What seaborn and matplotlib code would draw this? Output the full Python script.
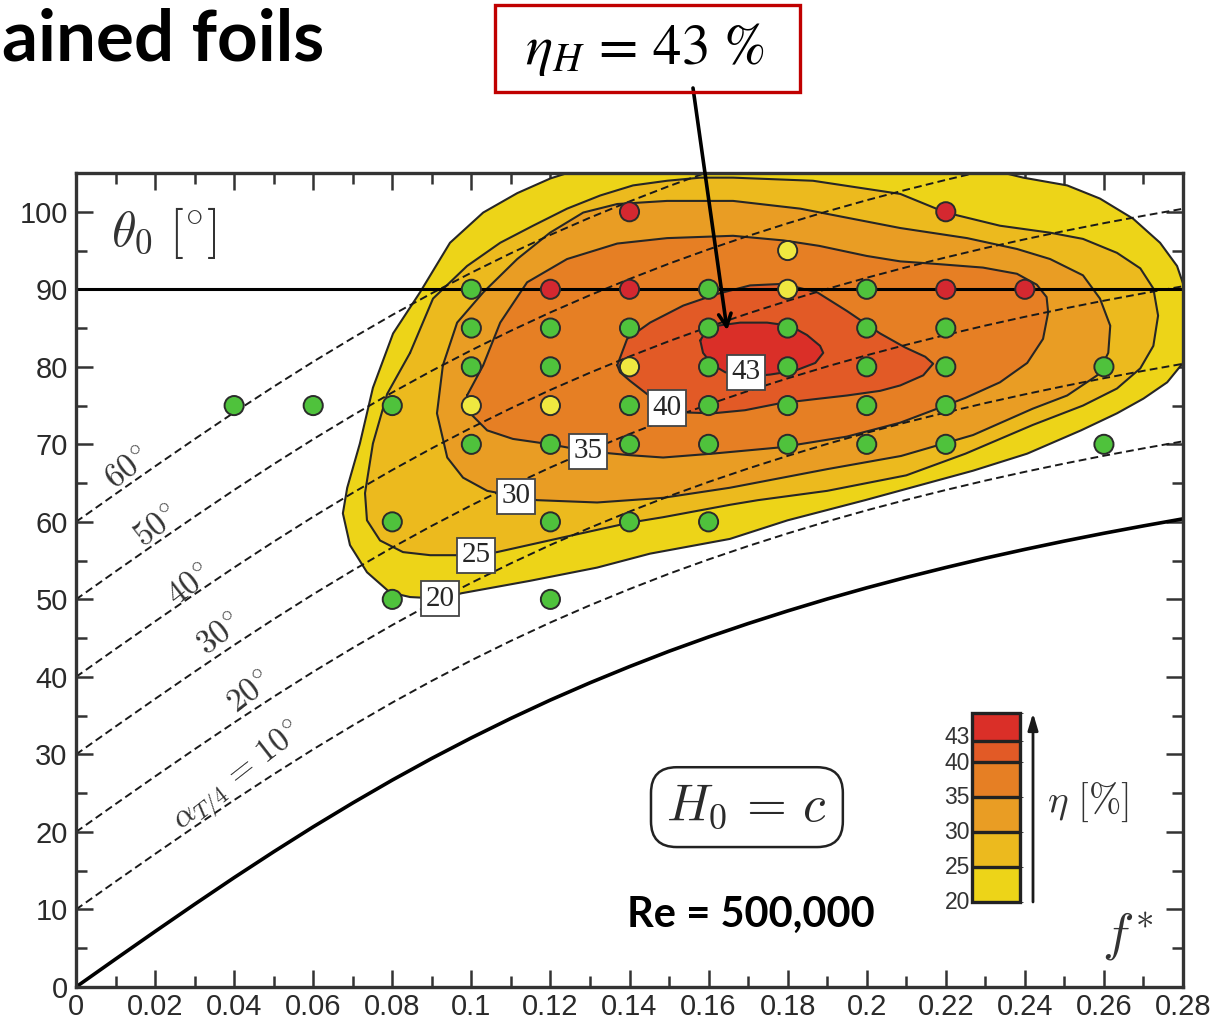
import matplotlib
matplotlib.use("Agg")
import matplotlib.pyplot as plt
import matplotlib.cm as mcm
from matplotlib.colors import ListedColormap, BoundaryNorm
from matplotlib.ticker import MultipleLocator, FuncFormatter
from matplotlib.patches import Rectangle
from matplotlib.transforms import offset_copy
import pandas as pd
import seaborn as sns

# ------------------------------------------------------------------ data
f_grid = [0.00, 0.01, 0.02, 0.03, 0.04, 0.05, 0.06, 0.07, 0.08, 0.09, 0.10,
          0.11, 0.12, 0.13, 0.14, 0.15, 0.16, 0.17, 0.18, 0.19, 0.20, 0.21,
          0.22, 0.23, 0.24, 0.25, 0.26, 0.27, 0.28]
# solid curve (alpha_T/4 = 0)
theta_zero_aoa = [0.0, 3.60, 7.16, 10.67, 14.11, 17.44, 20.66, 23.74, 26.69,
                  29.49, 32.14, 34.65, 37.02, 39.24, 41.33, 43.31, 45.15,
                  46.88, 48.51, 50.05, 51.49, 52.84, 54.11, 55.32, 56.45,
                  57.52, 58.53, 59.48, 60.39]
alpha_offsets = [10, 20, 30, 40, 50, 60]

green_f = [0.04, 0.06, 0.08, 0.08, 0.08, 0.10, 0.10, 0.10, 0.10, 0.12, 0.12,
           0.12, 0.12, 0.12, 0.14, 0.14, 0.14, 0.14, 0.16, 0.16, 0.16, 0.16,
           0.16, 0.16, 0.18, 0.18, 0.18, 0.18, 0.20, 0.20, 0.20, 0.20, 0.20,
           0.22, 0.22, 0.22, 0.22, 0.26, 0.26]
green_t = [75, 75, 75, 60, 50, 90, 85, 80, 70, 85, 80, 70, 60, 50, 85, 75, 70,
           60, 90, 85, 80, 75, 70, 60, 85, 80, 75, 70, 90, 85, 80, 75, 70, 85,
           80, 75, 70, 80, 70]
red_f = [0.14, 0.22, 0.12, 0.14, 0.22, 0.24]
red_t = [100, 100, 90, 90, 90, 90]
yellow_f = [0.18, 0.18, 0.14, 0.10, 0.12]
yellow_t = [95, 90, 80, 75, 75]

# efficiency iso-contours (f*, theta0)
c20_f = [0.128, 0.120, 0.1116, 0.103, 0.0946, 0.087, 0.0802, 0.0751, 0.0718,
         0.0686, 0.0675, 0.0693, 0.0736, 0.0794, 0.0845, 0.0921, 0.0976,
         0.1149, 0.1318, 0.1452, 0.1654, 0.1800, 0.1996, 0.2269, 0.2406,
         0.2542, 0.2633, 0.2700, 0.2760, 0.2800, 0.2825, 0.2825, 0.2805,
         0.2785, 0.2742, 0.2674, 0.2590, 0.2507, 0.2396, 0.2300]
c20_t = [105.6, 104.3, 102.4, 99.9, 96.0, 89.6, 84.3, 77.3, 70.1, 64.4, 61.1,
         57.0, 53.5, 50.9, 50.3, 50.1, 50.8, 52.4, 54.1, 55.9, 57.8, 60.2,
         62.8, 66.6, 68.8, 71.8, 74.0, 75.9, 78.0, 80.5, 84.0, 88.0, 90.0,
         93.0, 96.0, 99.1, 101.7, 103.4, 104.4, 105.6]
c25_f = [0.0845, 0.0903, 0.0989, 0.1073, 0.1156, 0.1242, 0.1326, 0.1409,
         0.1495, 0.1579, 0.1662, 0.1864, 0.2085, 0.2200, 0.2337, 0.2464,
         0.2547, 0.2633, 0.2692, 0.2725, 0.2737, 0.2725, 0.2692, 0.2633,
         0.2547, 0.2420, 0.2250, 0.2100, 0.1900, 0.1725, 0.1654, 0.1485,
         0.1401, 0.1232, 0.1065, 0.1012, 0.0896, 0.0827, 0.0769, 0.0736,
         0.0731, 0.0751, 0.0787]
c25_t = [81.8, 88.8, 93.0, 96.0, 98.2, 100.4, 102.1, 103.4, 104.0, 104.4,
         104.4, 104.0, 102.3, 99.9, 98.2, 97.3, 96.5, 94.7, 92.7, 90.1, 86.6,
         82.7, 79.8, 77.2, 75.0, 72.5, 68.8, 66.0, 64.0, 62.8, 62.2, 60.6,
         59.9, 58.0, 56.1, 55.7, 55.7, 56.1, 57.6, 60.2, 63.7, 70.1, 76.5]
c30_f = [0.0928, 0.0964, 0.1030, 0.1116, 0.1199, 0.1283, 0.1369, 0.1495,
         0.1662, 0.1832, 0.2085, 0.2254, 0.2380, 0.2464, 0.2547, 0.2590,
         0.2616, 0.2611, 0.2583, 0.2507, 0.2420, 0.2269, 0.2087, 0.1900,
         0.1654, 0.1485, 0.1318, 0.1166, 0.1113, 0.1040, 0.0979, 0.0939,
         0.0913]
c30_t = [80.2, 85.7, 89.6, 93.9, 97.3, 99.9, 101.0, 101.4, 101.4, 100.4,
         97.9, 96.6, 95.2, 93.9, 91.8, 88.8, 85.3, 81.8, 78.9, 76.3, 74.6,
         71.2, 68.5, 66.8, 64.4, 63.1, 62.5, 62.8, 63.3, 64.0, 65.7, 68.3,
         74.0]
c35_f = [0.0989, 0.1030, 0.1073, 0.1141, 0.1242, 0.1369, 0.1495, 0.1662,
         0.1790, 0.1880, 0.2000, 0.2085, 0.2168, 0.2294, 0.2380, 0.2430,
         0.2455, 0.2459, 0.2446, 0.2406, 0.2337, 0.2250, 0.2168, 0.2085,
         0.1950, 0.1780, 0.1610, 0.1485, 0.1401, 0.1295, 0.1200, 0.1105,
         0.1040, 0.0997]
c35_t = [76.3, 80.2, 85.7, 90.9, 93.9, 95.9, 96.6, 96.9, 96.3, 95.6, 94.3,
         93.6, 93.3, 92.8, 92.0, 90.6, 89.0, 87.0, 83.6, 80.5, 78.0, 76.0,
         74.4, 72.8, 71.0, 69.6, 68.8, 68.3, 68.6, 69.1, 70.0, 70.7, 71.8,
         74.0]
c40_f = [0.1369, 0.1394, 0.1452, 0.1536, 0.1622, 0.1705, 0.1789, 0.1875,
         0.1950, 0.2034, 0.2097, 0.2148, 0.2168, 0.2143, 0.2085, 0.2034,
         0.1950, 0.1864, 0.1781, 0.1692, 0.1611, 0.1548, 0.1495, 0.1444,
         0.1401, 0.1376]
c40_t = [80.2, 83.6, 85.7, 87.9, 89.4, 90.5, 90.7, 89.6, 87.2, 84.3, 82.5,
         81.3, 80.4, 78.9, 77.6, 76.9, 76.3, 75.8, 75.3, 74.4, 74.0, 74.1,
         74.7, 76.5, 78.2, 79.3]
c43_f = [0.1579, 0.1591, 0.1622, 0.1680, 0.1748, 0.1806, 0.1849, 0.1882,
         0.1890, 0.1870, 0.1819, 0.1756, 0.1692, 0.1642, 0.1609, 0.1586]
c43_t = [83.4, 84.4, 85.3, 85.7, 85.7, 85.3, 84.1, 82.7, 81.8, 80.5, 79.5,
         79.0, 78.7, 79.3, 80.3, 81.8]

level_values = [20, 25, 30, 35, 40, 43]
level_colors = ["#EDD418", "#ECBA1E", "#E99D24", "#E67F24", "#E25A26", "#DA2F28"]
label_f = [0.0921, 0.1012, 0.1113, 0.1295, 0.1495, 0.1695]
label_t = [50.1, 55.7, 63.3, 69.1, 74.7, 79.3]

dash_label_text = [r"$60^{\!\circ}$", r"$50^{\!\circ}$", r"$40^{\!\circ}$",
                   r"$30^{\!\circ}$", r"$20^{\!\circ}$",
                   r"$\alpha_{T/4}\,=\,10^{\!\circ}$"]
dash_label_f = [0.0132, 0.0205, 0.0289, 0.0364, 0.0440, 0.0412]
dash_label_t = [66.9, 59.4, 51.8, 45.4, 38.0, 26.9]

x_ticks = [0.00, 0.02, 0.04, 0.06, 0.08, 0.10, 0.12, 0.14, 0.16, 0.18, 0.20,
           0.22, 0.24, 0.26, 0.28]
y_ticks = [0, 10, 20, 30, 40, 50, 60, 70, 80, 90, 100]

# ------------------------------------------------------------------ style
sns.set_style("ticks")
plt.rcParams["font.family"] = ["Liberation Sans", "DejaVu Sans"]
plt.rcParams["mathtext.fontset"] = "cm"

W, H = 1215, 1022
fig = plt.figure(figsize=(W / 100, H / 100), dpi=100)
ax = fig.add_axes([76 / W, (H - 987) / H, (1183 - 76) / W, (987 - 173) / H])
ax.set_facecolor("white")

# filled contour bands + outlines
contours = [(c20_f, c20_t), (c25_f, c25_t), (c30_f, c30_t),
            (c35_f, c35_t), (c40_f, c40_t), (c43_f, c43_t)]
for (cf, ct), col in zip(contours, level_colors):
    ax.fill(cf, ct, color=col, lw=0, zorder=1)
for cf, ct in contours:
    ax.plot(list(cf) + [cf[0]], list(ct) + [ct[0]], color="#262626", lw=1.5,
            zorder=2, solid_joinstyle="round")

# dashed alpha_T/4 lines and solid curve
for off in alpha_offsets:
    sns.lineplot(x=f_grid, y=[v + off for v in theta_zero_aoa], ax=ax,
                 color="#1a1a1a", lw=1.4, linestyle=(0, (4, 2.2)),
                 estimator=None, sort=False, zorder=3)
sns.lineplot(x=f_grid, y=theta_zero_aoa, ax=ax, color="black", lw=2.6,
             estimator=None, sort=False, zorder=3)
ax.axhline(90, color="black", lw=2.2, zorder=3)

# experimental points
pts = pd.DataFrame({
    "f": green_f + red_f + yellow_f,
    "theta": green_t + red_t + yellow_t,
    "kind": ["green"] * len(green_f) + ["red"] * len(red_f) + ["yellow"] * len(yellow_f),
})
sns.scatterplot(data=pts, x="f", y="theta", hue="kind", ax=ax, s=190,
                palette={"green": "#4FC23C", "red": "#D42830", "yellow": "#EFE840"},
                edgecolor="#2b2b2b", linewidth=1.4, legend=False, zorder=6)

# contour labels
for v, lf, lt in zip(level_values, label_f, label_t):
    ax.text(lf, lt, str(v), fontsize=21, family="Liberation Serif",
            ha="center", va="center", zorder=8,
            bbox=dict(boxstyle="square,pad=0.16", fc="white", ec="#444444", lw=1.3))

# dashed-line labels
for txt, lf, lt in zip(dash_label_text, dash_label_f, dash_label_t):
    ax.text(lf, lt, txt, fontsize=24, rotation=38, rotation_mode="anchor",
            ha="center", va="center", color="#333333", zorder=7)

ax.text(0.0088, 97.2, r"$\theta_0\ [^{\circ}]$", fontsize=36, ha="left",
        va="center", color="#333333", zorder=7)
ax.text(0.2659, 6.6, r"$f^{\!*}$", fontsize=38, ha="center", va="center",
        color="#333333", zorder=7)
ax.text(0.1697, 23.2, r"$H_0\,=\,c$", fontsize=37, ha="center", va="center",
        color="#2a2a2a", zorder=7,
        bbox=dict(boxstyle="round,pad=0.3,rounding_size=0.5", fc="white",
                  ec="#222222", lw=1.8))

# axes formatting
ax.set_xlim(0, 0.28)
ax.set_ylim(0, 105)
ax.set_xticks(x_ticks)
ax.set_yticks(y_ticks)
ax.xaxis.set_minor_locator(MultipleLocator(0.01))
ax.yaxis.set_minor_locator(MultipleLocator(5))
ax.xaxis.set_major_formatter(FuncFormatter(lambda v, p: "%g" % round(v, 2)))
ax.tick_params(which="both", direction="in", top=True, right=True,
               color="#333333", width=1.8, labelsize=21, labelcolor="#2a2a2a")
ax.tick_params(which="major", length=12)
ax.tick_params(which="minor", length=8)
ax.tick_params(axis="x", pad=4)
ax.tick_params(axis="y", pad=6)
for sp in ax.spines.values():
    sp.set_visible(True)
    sp.set_linewidth(2.4)
    sp.set_color("#333333")
    sp.set_zorder(9)
ax.set_xlabel("")
ax.set_ylabel("")

# colour bar
cax = fig.add_axes([972 / W, (H - 902) / H, 48 / W, 189 / H])
cmap = ListedColormap(level_colors)
norm = BoundaryNorm([20, 25, 30, 35, 40, 43, 47], cmap.N)
cb = fig.colorbar(mcm.ScalarMappable(norm=norm, cmap=cmap), cax=cax,
                  spacing="proportional", ticks=[], drawedges=True)
cb.outline.set_linewidth(2.4)
cb.outline.set_edgecolor("#222222")
cb.dividers.set_color("#222222")
cb.dividers.set_linewidth(2.4)
cb_shift = {43: 4, 40: -1}
for v in level_values:
    tr = offset_copy(cax.get_yaxis_transform(), fig=fig, x=-2,
                     y=cb_shift.get(v, 0), units="dots")
    cax.text(0, v, str(v), transform=tr, fontsize=16.5, ha="right",
             va="center", color="#333333")
fig.text(1088 / W, 1 - 802 / H, r"$\eta\ [\%]$", fontsize=28, ha="center",
         va="center", color="#333333")
ax.annotate("", xy=(1033 / W, 1 - 713 / H), xycoords="figure fraction",
            xytext=(1033 / W, 1 - 902 / H), textcoords="figure fraction",
            arrowprops=dict(arrowstyle="-|>,head_length=1.0,head_width=0.3",
                            lw=2.0, color="#1a1a1a", shrinkA=0, shrinkB=0),
            annotation_clip=False)

# annotations outside the plot
fig.text(2 / W, 1 - 40 / H, "ained foils", fontsize=51, fontweight="bold",
         family="Lato", ha="left", va="center", color="black")
fig.text(751 / W, 1 - 915 / H, "Re = 500,000", fontsize=30, fontweight="bold",
         family="Lato", ha="center", va="center", color="black")
fig.patches.append(Rectangle((495 / W, 1 - 92 / H), 305 / W, 87 / H,
                             transform=fig.transFigure, fill=False,
                             ec="#C00000", lw=2.4))
fig.text(645 / W, 1 - 50 / H, r"$\eta_H\,=\,43\ \%$", fontsize=41,
         math_fontfamily="stix", ha="center", va="center", color="black")
ax.annotate("", xy=(0.1647, 84.7), xycoords="data",
            xytext=(693 / W, 1 - 88 / H), textcoords="figure fraction",
            arrowprops=dict(arrowstyle="->,head_length=0.9,head_width=0.45",
                            lw=2.6, color="black", shrinkA=0, shrinkB=0),
            annotation_clip=False, zorder=10)

fig.savefig("out.png", dpi=100)
